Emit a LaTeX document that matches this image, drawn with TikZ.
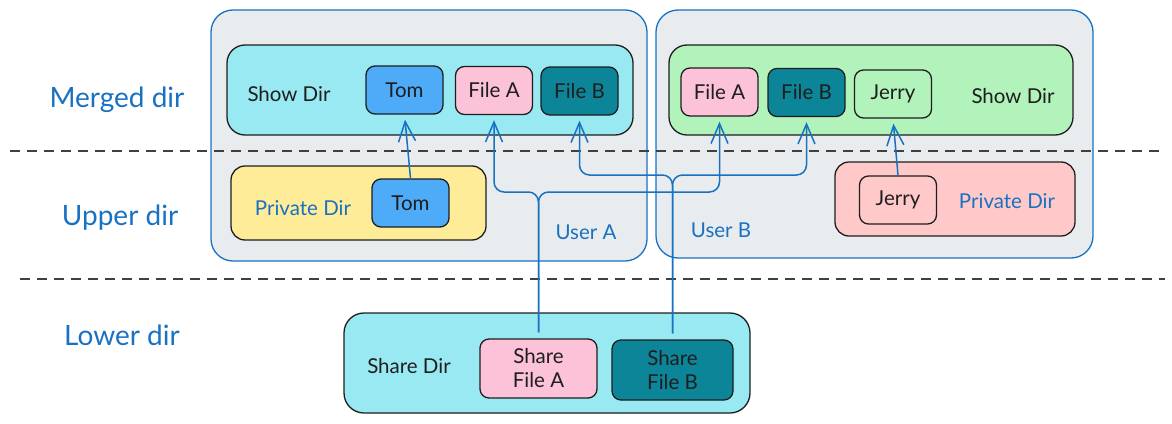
\documentclass[tikz,border=0pt]{standalone}
\usepackage{fontspec}
\setmainfont{Lato}
\usetikzlibrary{arrows.meta}

\definecolor{ink}{HTML}{1E1E1E}
\definecolor{blueink}{HTML}{1971C2}
\definecolor{bgray}{HTML}{E9ECEF}
\definecolor{cyanfill}{HTML}{99E9F2}
\definecolor{tomfill}{HTML}{4DABF7}
\definecolor{pinkfill}{HTML}{FCC2D7}
\definecolor{tealfill}{HTML}{0C8599}
\definecolor{yellowfill}{HTML}{FFEC99}
\definecolor{greenfill}{HTML}{B2F2BB}
\definecolor{redfill}{HTML}{FFC9C9}

\begin{document}
\begin{tikzpicture}[x=1pt,y=-1pt,
  user/.style={draw=blueink, fill=bgray, line width=1.3pt, rounded corners=22pt, inner sep=0pt},
  dir/.style={draw=ink, line width=1.3pt, rounded corners=18pt, inner sep=0pt},
  file/.style={draw=ink, line width=1.3pt, rounded corners=9pt, inner sep=0pt,
    minimum width=77pt, minimum height=48pt, text=ink, align=center,
    font=\fontsize{20.5}{24}\selectfont},
  lbl/.style={text=ink, font=\fontsize{20.5}{24}\selectfont},
  bluelbl/.style={text=blueink, font=\fontsize{20.5}{24}\selectfont},
  layer/.style={text=blueink, font=\fontsize{28}{32}\selectfont},
  link/.style={draw=blueink, line width=1.5pt, rounded corners=10pt,
    -{Straight Barb[length=20pt,width=17pt]}, shorten >=5pt, shorten <=6pt},
  sep/.style={draw=ink!85, line width=1.4pt, dash pattern=on 10pt off 7pt}]
\useasboundingbox (0,0) rectangle (1172,423);

% ---- layer names
\node[layer] (merged) at (117,100) {Merged dir};
\node[layer] (upper) at (120,218) {Upper dir};
\node[layer] (lower) at (122,335) {Lower dir};

% ---- user boxes, then the separators over them
\node[user, minimum width=436pt, minimum height=251pt] (userA) at (429,135.5) {};
\node[user, minimum width=437pt, minimum height=248pt] (userB) at (874.5,134) {};
\draw[sep] (10,151) -- (1160,151);
\draw[sep] (20,279) -- (1165,279);

% ---- user A
\node[dir, fill=cyanfill, minimum width=406pt, minimum height=90pt] (showA) at (430,90) {};
\node[lbl] (showAlbl) at (289,94) {Show Dir};
\node[file, fill=tomfill] (tomM) at (404.5,90) {Tom};
\node[file, fill=pinkfill] (aFileA) at (494,90.5) {File A};
\node[file, fill=tealfill] (aFileB) at (579.5,91) {File B};
\node[dir, fill=yellowfill, rounded corners=14pt, minimum width=255pt, minimum height=74pt] (privA) at (358.5,203) {};
\node[bluelbl] (privAlbl) at (303,208) {Private Dir};
\node[file, fill=tomfill] (tomP) at (410.5,203) {Tom};
\node[bluelbl] (userAlbl) at (586,232) {User A};

% ---- user B
\node[dir, fill=greenfill, minimum width=404pt, minimum height=90pt] (showB) at (871,90) {};
\node[lbl] (showBlbl) at (1013,96) {Show Dir};
\node[file, fill=pinkfill] (bFileA) at (719.5,92) {File A};
\node[file, fill=tealfill] (bFileB) at (806.5,92.5) {File B};
\node[file, fill=greenfill] (jerryM) at (893,94) {Jerry};
\node[dir, fill=redfill, rounded corners=14pt, minimum width=240pt, minimum height=74pt] (privB) at (955,199) {};
\node[bluelbl] (privBlbl) at (1007,201) {Private Dir};
\node[file, fill=redfill] (jerryP) at (898,200) {Jerry};
\node[bluelbl] (userBlbl) at (721,230) {User B};

% ---- shared lower dir
\node[dir, fill=cyanfill, rounded corners=20pt, minimum width=406pt, minimum height=100pt] (share) at (547,363) {};
\node[lbl] (sharelbl) at (409,366) {Share Dir};
\node[file, fill=pinkfill, minimum width=117pt, minimum height=59pt] (sFileA) at (538.5,368.5) {Share\\File A};
\node[file, fill=tealfill, minimum width=121pt, minimum height=60pt] (sFileB) at (672.5,370) {Share\\File B};

% ---- private files up to the merged view
\draw[link, shorten <=0pt] (tomP.north) -- (tomM.south);
\draw[link, shorten <=0pt] (jerryP.north) -- (jerryM.south);

% ---- shared files up to both users
\draw[link] (sFileA.north) -- (sFileA.north |- 0,192) -| (aFileA.south);
\draw[link] (sFileA.north) -- (sFileA.north |- 0,192) -| (bFileA.south);
\draw[link] (sFileB.north) -- (sFileB.north |- 0,175) -| (aFileB.south);
\draw[link] (sFileB.north) -- (sFileB.north |- 0,175) -| (bFileB.south);

\end{tikzpicture}
\end{document}
